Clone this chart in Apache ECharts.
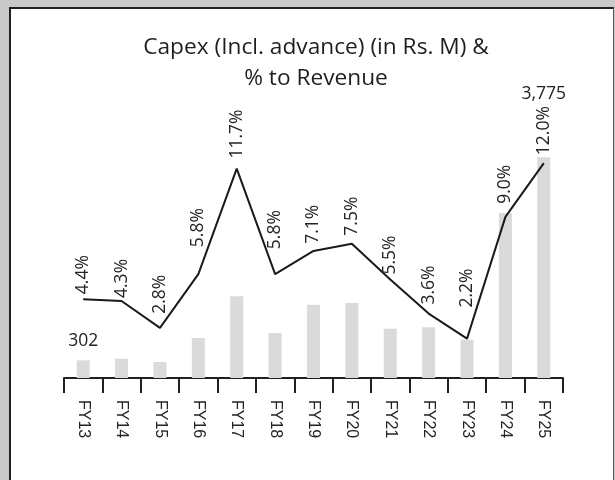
<!DOCTYPE html>
<html><head><meta charset="utf-8">
<script src="https://cdn.jsdelivr.net/npm/echarts/dist/echarts.min.js"></script>
<style>
html,body{margin:0;padding:0;background:#c8c9cb;}
#wrap{position:relative;width:615px;height:480px;overflow:hidden;background:#c8c9cb;}
#panel{position:absolute;left:9px;top:7px;width:605px;height:500px;background:#fff;border:2px solid #231f20;border-right:1px solid #555;box-sizing:border-box;}
#chart{position:absolute;left:0;top:0;width:615px;height:480px;}
</style></head><body>
<div id="wrap"><div id="panel"></div><div id="chart"></div></div>
<script>
const categories = ['FY13','FY14','FY15','FY16','FY17','FY18','FY19','FY20','FY21','FY22','FY23','FY24','FY25'];
const capex = [302, 330, 274, 684, 1397, 770, 1253, 1283, 843, 867, 655, 2822, 3775];
const pctRevenue = [4.4, 4.3, 2.8, 5.8, 11.7, 5.8, 7.1, 7.5, 5.5, 3.6, 2.2, 9.0, 12.0];
const labelledBars = [0, 12];

const barLabelGap = {0: 10, 12: 54};
const lineLabelGap = [5, 3, 14, 27, 10, 25, 7, 8, 5, 9, 31, 13, 8];

const textColor = '#232323';
const chart = echarts.init(document.getElementById('chart'), null, {renderer: 'canvas'});

const barData = capex.map((v, i) => {
  const show = labelledBars.indexOf(i) >= 0;
  return {
    value: v,
    label: {show: show, distance: show ? barLabelGap[i] : 5}
  };
});
const lineData = pctRevenue.map((v, i) => ({
  value: v,
  label: {distance: lineLabelGap[i]}
}));

chart.setOption({
  animation: false,
  backgroundColor: 'transparent',
  title: {
    text: 'Capex (Incl. advance) (in Rs. M) &\n% to Revenue',
    left: 311,
    textAlign: 'center',
    top: 27,
    textStyle: {fontFamily: 'Open Sans', fontSize: 22.7, fontWeight: 'normal', color: '#1e1e1e', lineHeight: 31}
  },
  grid: {left: 64, right: 52, top: 78, bottom: 102, containLabel: false},
  xAxis: {
    type: 'category',
    data: categories,
    boundaryGap: true,
    axisLine: {lineStyle: {color: '#231f20', width: 2}},
    axisTick: {show: true, length: 15, interval: 0, lineStyle: {color: '#231f20', width: 2}},
    axisLabel: {interval: 0, rotate: -90, margin: 22, fontFamily: 'Liberation Sans', fontSize: 16, color: textColor}
  },
  yAxis: [
    {type: 'value', min: 0, max: 5130, show: false, splitLine: {show: false}},
    {type: 'value', min: 0, max: 16.76, show: false, splitLine: {show: false}}
  ],
  series: [
    {
      type: 'bar',
      yAxisIndex: 0,
      data: barData,
      barWidth: 13,
      itemStyle: {color: '#d9dadc'},
      label: {
        position: 'top',
        fontFamily: 'Open Sans', fontSize: 17.5, color: textColor,
        formatter: p => Number(p.value).toLocaleString('en-US')
      },
      z: 2
    },
    {
      type: 'line',
      yAxisIndex: 1,
      data: lineData,
      symbol: 'circle',
      symbolSize: 0.1,
      showSymbol: true,
      itemStyle: {color: 'rgba(0,0,0,0)'},
      lineStyle: {color: '#1a1a1a', width: 2},
      label: {
        show: true,
        position: 'top',
        rotate: 90,
        align: 'left',
        verticalAlign: 'middle',
        fontFamily: 'Open Sans', fontSize: 17.5, color: textColor,
        formatter: p => Number(p.value).toFixed(1) + '%'
      },
      z: 3
    }
  ]
});
</script>
</body></html>
